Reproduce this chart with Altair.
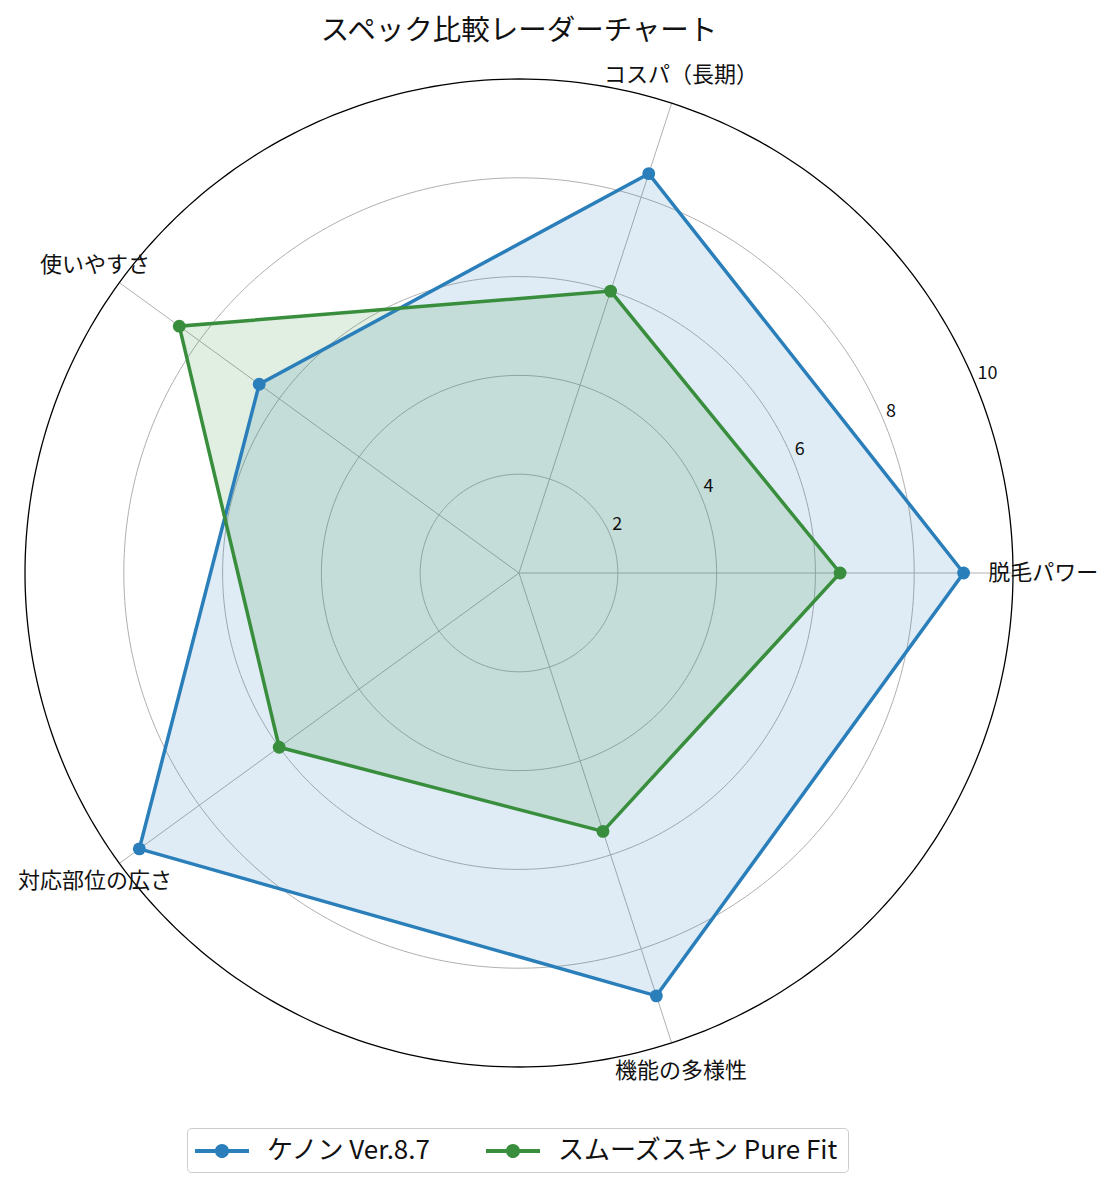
import altair as alt
import pandas as pd
import numpy as np

# ---------------- data ----------------
categories = ["脱毛パワー", "コスパ（長期）", "使いやすさ", "対応部位の広さ", "機能の多様性"]
series_names = ["ケノン Ver.8.7", "スムーズスキン Pure Fit"]
kenon_values = [9.0, 8.5, 6.5, 9.5, 9.0]
smooth_values = [6.5, 6.0, 8.5, 6.0, 5.5]
tick_values = [2, 4, 6, 8, 10]
title_text = "スペック比較レーダーチャート"

colors = ["#2a7fba", "#388e3c"]
FONT = "Noto Sans CJK JP"
N = len(categories)
R_MAX = 10
LABEL_R = 10.61
TICK_ANGLE_DEG = 22.5

rows = []
for name, vals in zip(series_names, [kenon_values, smooth_values]):
    for i, (c, v) in enumerate(zip(categories, vals)):
        rows.append({"series": name, "category": c, "idx": i, "value": v})
df = pd.DataFrame(rows)

cat_df = pd.DataFrame({"category": categories, "idx": list(range(N))})
tick_df = pd.DataFrame({"tick": tick_values})

# grid circles (decoration): each tick level traced around 360 degrees
deg = np.arange(0, 361, 1)
grid_df = pd.DataFrame(
    [{"tick": t, "deg": int(d)} for t in tick_values for d in deg]
)

xs = alt.Scale(domain=[-R_MAX, R_MAX], nice=False, zero=False)
ys = alt.Scale(domain=[-R_MAX, R_MAX], nice=False, zero=False)
series_scale = alt.Scale(domain=series_names, range=colors)

ang = f"datum.idx * 2 * PI / {N}"
X = lambda f: alt.X(f, scale=xs, axis=None)
Y = lambda f: alt.Y(f, scale=ys, axis=None)

grid = (
    alt.Chart(grid_df)
    .transform_filter(f"datum.tick < {R_MAX}")
    .transform_calculate(
        gx="datum.tick * cos(datum.deg * PI / 180)",
        gy="datum.tick * sin(datum.deg * PI / 180)",
    )
    .mark_line(color="#b0b0b0", strokeWidth=1)
    .encode(x=X("gx:Q"), y=Y("gy:Q"), detail="tick:N", order="deg:Q")
)

outer = (
    alt.Chart(grid_df)
    .transform_filter(f"datum.tick == {R_MAX}")
    .transform_calculate(
        gx="datum.tick * cos(datum.deg * PI / 180)",
        gy="datum.tick * sin(datum.deg * PI / 180)",
    )
    .mark_line(color="#000000", strokeWidth=1.3)
    .encode(x=X("gx:Q"), y=Y("gy:Q"), order="deg:Q")
)

spokes = (
    alt.Chart(cat_df)
    .transform_calculate(
        x0="0",
        y0="0",
        x1=f"{R_MAX} * cos({ang})",
        y1=f"{R_MAX} * sin({ang})",
    )
    .mark_rule(color="#b0b0b0", strokeWidth=1)
    .encode(x=X("x0:Q"), y=Y("y0:Q"), x2="x1:Q", y2="y1:Q")
)

base = alt.Chart(df).transform_calculate(
    px=f"datum.value * cos({ang})",
    py=f"datum.value * sin({ang})",
)

fill_layers = []
line_layers = []
for name, col in zip(series_names, colors):
    sub = base.transform_filter(alt.datum.series == name)
    fill_layers.append(
        sub.mark_line(
            interpolate="linear-closed", fill=col, fillOpacity=0.15,
            stroke=col, strokeOpacity=0,
        ).encode(x=X("px:Q"), y=Y("py:Q"), order="idx:Q")
    )
    line_layers.append(
        sub.mark_line(
            interpolate="linear-closed", color=col, strokeWidth=3.5
        ).encode(x=X("px:Q"), y=Y("py:Q"), order="idx:Q")
    )

legend_path = (
    "M-1.8,-0.13H1.8V0.13H-1.8Z "
    "M0.47,0A0.47,0.47,0,1,1,-0.47,0A0.47,0.47,0,1,1,0.47,0Z"
)

points = base.mark_circle(size=165, opacity=1).encode(
    x=X("px:Q"),
    y=Y("py:Q"),
    color=alt.Color(
        "series:N",
        scale=series_scale,
        legend=alt.Legend(
            title=None,
            orient="none",
            legendX=162,
            legendY=1049,
            direction="horizontal",
            labelFont=FONT,
            labelFontSize=26,
            labelColor="#111111",
            labelLimit=500,
            symbolType=legend_path,
            symbolSize=900,
            symbolStrokeWidth=0,
            symbolOpacity=1,
            symbolOffset=12,
            labelOffset=30,
            strokeColor="#cccccc",
            fillColor="#ffffff",
            cornerRadius=4,
            padding=8,
            columnPadding=54,
        ),
    ),
)

tick_labels = (
    alt.Chart(tick_df)
    .transform_calculate(
        tx=f"datum.tick * cos({TICK_ANGLE_DEG} * PI / 180)",
        ty=f"datum.tick * sin({TICK_ANGLE_DEG} * PI / 180)",
    )
    .mark_text(
        font=FONT, fontSize=18, align="left", baseline="bottom", dx=2, dy=-1,
        color="#111111",
    )
    .encode(x=X("tx:Q"), y=Y("ty:Q"), text="tick:N")
)

cat_labels = (
    alt.Chart(cat_df)
    .transform_calculate(
        lx=f"{LABEL_R} * cos({ang})",
        ly=f"{LABEL_R} * sin({ang})",
    )
    .mark_text(font=FONT, fontSize=22, align="center", baseline="middle",
               color="#111111")
    .encode(x=X("lx:Q"), y=Y("ly:Q"), text="category:N")
)

chart = (
    alt.layer(grid, spokes, outer, *fill_layers, *line_layers, points,
              tick_labels, cat_labels)
    .properties(
        width=988,
        height=988,
        autosize=alt.AutoSizeParams(type="none"),
        padding={"left": 17, "top": 71, "right": 93, "bottom": 113},
        title=alt.TitleParams(
            title_text,
            font=FONT,
            fontSize=28.5,
            fontWeight="normal",
            anchor="middle",
            frame="group",
            offset=18.5,
            color="#111111",
        ),
    )
    .configure_view(stroke=None)
)

chart.save("out.html", embed_options={"renderer": "svg", "actions": False})
